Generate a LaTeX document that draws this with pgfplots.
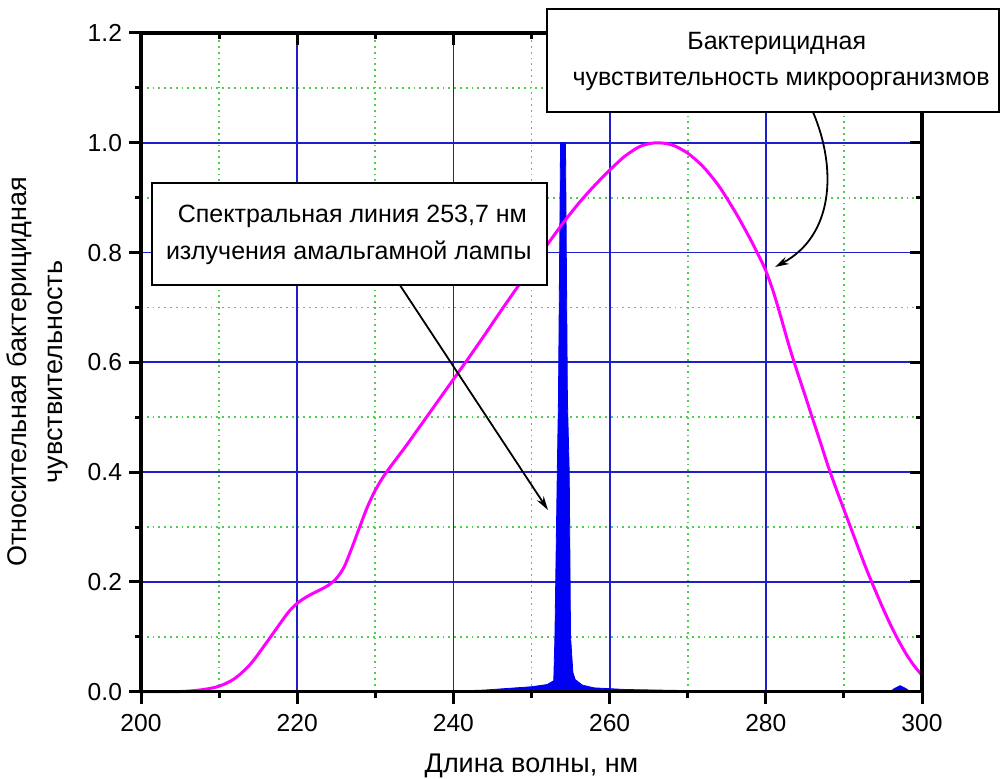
\documentclass[border=0pt]{standalone}
\usepackage{fontspec}
\setmainfont{Liberation Sans}
\usepackage{pgfplots}
\pgfplotsset{compat=1.18}
\usetikzlibrary{arrows.meta}

\definecolor{gridblue}{RGB}{30,30,205}
\definecolor{gridgreen}{RGB}{80,205,80}
\definecolor{curvemag}{RGB}{255,0,255}
\definecolor{lineblue}{RGB}{0,0,245}

\pgfplotsset{
  commonax/.style={
    scale only axis, width=390.5pt, height=329.35pt,
    xmin=200, xmax=300, ymin=0, ymax=1.2,
    xtick={200,220,240,260,280,300},
    ytick={0,0.2,0.4,0.6,0.8,1.0,1.2},
    minor x tick num=1, minor y tick num=1,
    axis line style={black, line width=1.8pt, -},
    major tick length=6pt, minor tick length=3pt,
    tick style={black, line width=1.4pt},
    /pgf/number format/assume math mode=true,
    tick label style={font=\fontsize{12.3}{14}\selectfont},
    clip=false,
  }
}

\begin{document}
\begin{tikzpicture}
\path[use as bounding box] (-70.5pt,-43.65pt) rectangle (430pt,345.85pt);

% axis 1: grid, data, tick labels, axis labels
\begin{axis}[
  commonax,
  tick align=outside,
  xtick pos=left, ytick pos=left,
  grid=both,
  major grid style={gridblue, line width=0.9pt},
  minor grid style={gridgreen, line width=0.9pt, dotted},
  yticklabel style={/pgf/number format/.cd, fixed, fixed zerofill, precision=1},
  xticklabel style={yshift=-2pt, /pgf/number format/.cd, fixed, precision=0, 1000 sep={}},
]
% emission line of the amalgam lamp (filled spike)
\addplot[draw=lineblue, fill=lineblue, line width=0.4pt] coordinates {
(200,0) (230,0.0005) (240,0.001) (244,0.003) (247,0.006) (250,0.009)
(252,0.013) (252.85,0.02) (253.0,0.1) (253.3,0.4) (253.45,0.53) (253.72,1.0)
(254.35,1.0) (254.6,0.53) (254.83,0.4) (255.0,0.1) (255.3,0.035) (255.6,0.022)
(256.5,0.012) (258,0.007) (262,0.004) (266,0.003) (270,0.002) (280,0.001)
(296,0.001) (296.5,0.006) (297.2,0.011) (297.9,0.006) (298.4,0.001) (300,0)
} \closedcycle;

% germicidal sensitivity of microorganisms
\addplot[curvemag, line width=1.5pt, smooth, tension=0.5] coordinates {
(200,0) (204,0) (206,0.001) (208,0.004) (210,0.010) (212,0.024) (214,0.050)
(216,0.088) (218,0.128) (219,0.147) (220,0.161) (221,0.171) (222,0.179)
(223,0.186) (224,0.194) (225,0.206) (226,0.227) (227,0.262) (228,0.300)
(229,0.337) (230,0.367) (231,0.391) (232,0.411) (233,0.430) (234,0.449)
(236,0.489) (238,0.529) (240,0.569) (242,0.609) (244,0.650) (246,0.692)
(248,0.733) (250,0.774) (252,0.814) (254,0.853) (256,0.889) (258,0.921)
(260,0.950) (262,0.976) (264,0.994) (266,1.000) (268,0.996) (270,0.981)
(272,0.956) (274,0.921) (276,0.876) (277,0.851) (278,0.825) (279,0.797)
(280,0.767) (281,0.727) (282,0.679) (283,0.629) (284,0.584) (285,0.541)
(286,0.497) (287,0.454) (288,0.410) (289,0.370) (290,0.332) (291,0.294)
(292,0.256) (293,0.219) (294,0.185) (295,0.152) (296,0.121) (297,0.093)
(298,0.068) (299,0.047) (300,0.030)
};

\node[rotate=90, align=center, font=\fontsize{13.5}{18}\selectfont]
  at (rel axis cs:-0.1330,0.4853) {Относительная бактерицидная\\чувствительность};
\node[anchor=base, font=\fontsize{13.5}{16}\selectfont]
  at (rel axis cs:0.5,-0.1234) {Длина волны, нм};
\end{axis}

% axis 2: outward ticks on bottom and left
\begin{axis}[
  commonax,
  axis x line*=bottom, axis y line*=left,
  tick align=outside,
  tick style={black, line width=1.5pt},
  xticklabels={}, yticklabels={},
]
\addplot[draw=none] coordinates {(200,0)};
\end{axis}

% axis 3: inward ticks on top and right, frame, annotations
\begin{axis}[
  commonax,
  axis x line*=top, axis y line*=right,
  tick align=inside,
  tick style={black, line width=1.5pt},
  xticklabels={}, yticklabels={},
]
\addplot[draw=none] coordinates {(200,0)};
\draw[black, line width=1.8pt] (rel axis cs:0,0) rectangle (rel axis cs:1,1);
\draw[black, line width=1pt, fill=white] (axis cs:251.98,1.2438) rectangle (axis cs:309.92,1.0561);
\draw[black, line width=1pt, fill=white] (axis cs:201.41,0.9268) rectangle (axis cs:251.98,0.7410);
\node[anchor=base, font=\fontsize{12.5}{15}\selectfont] at (axis cs:281.4,1.169) {Бактерицидная};
\node[anchor=base, font=\fontsize{12.5}{15}\selectfont] at (axis cs:281.95,1.105) {чувствительность микроорганизмов};
\node[anchor=base, font=\fontsize{12.5}{15}\selectfont] at (axis cs:227.07,0.8544) {Спектральная линия 253,7 нм};
\node[anchor=base, font=\fontsize{12.5}{15}\selectfont] at (axis cs:226.6,0.7865) {излучения амальгамной лампы};
\draw[black, line width=0.9pt, -{Stealth[length=7pt,width=4pt]}]
  (axis cs:233.16,0.7405) -- (axis cs:252.11,0.331);
\draw[black, line width=0.9pt, -{Stealth[length=7pt,width=4pt]}]
  (axis cs:286.04,1.0561) .. controls (axis cs:289.2,0.95) and (axis cs:288.6,0.83) .. (axis cs:281.18,0.7737);
\end{axis}
\end{tikzpicture}
\end{document}
